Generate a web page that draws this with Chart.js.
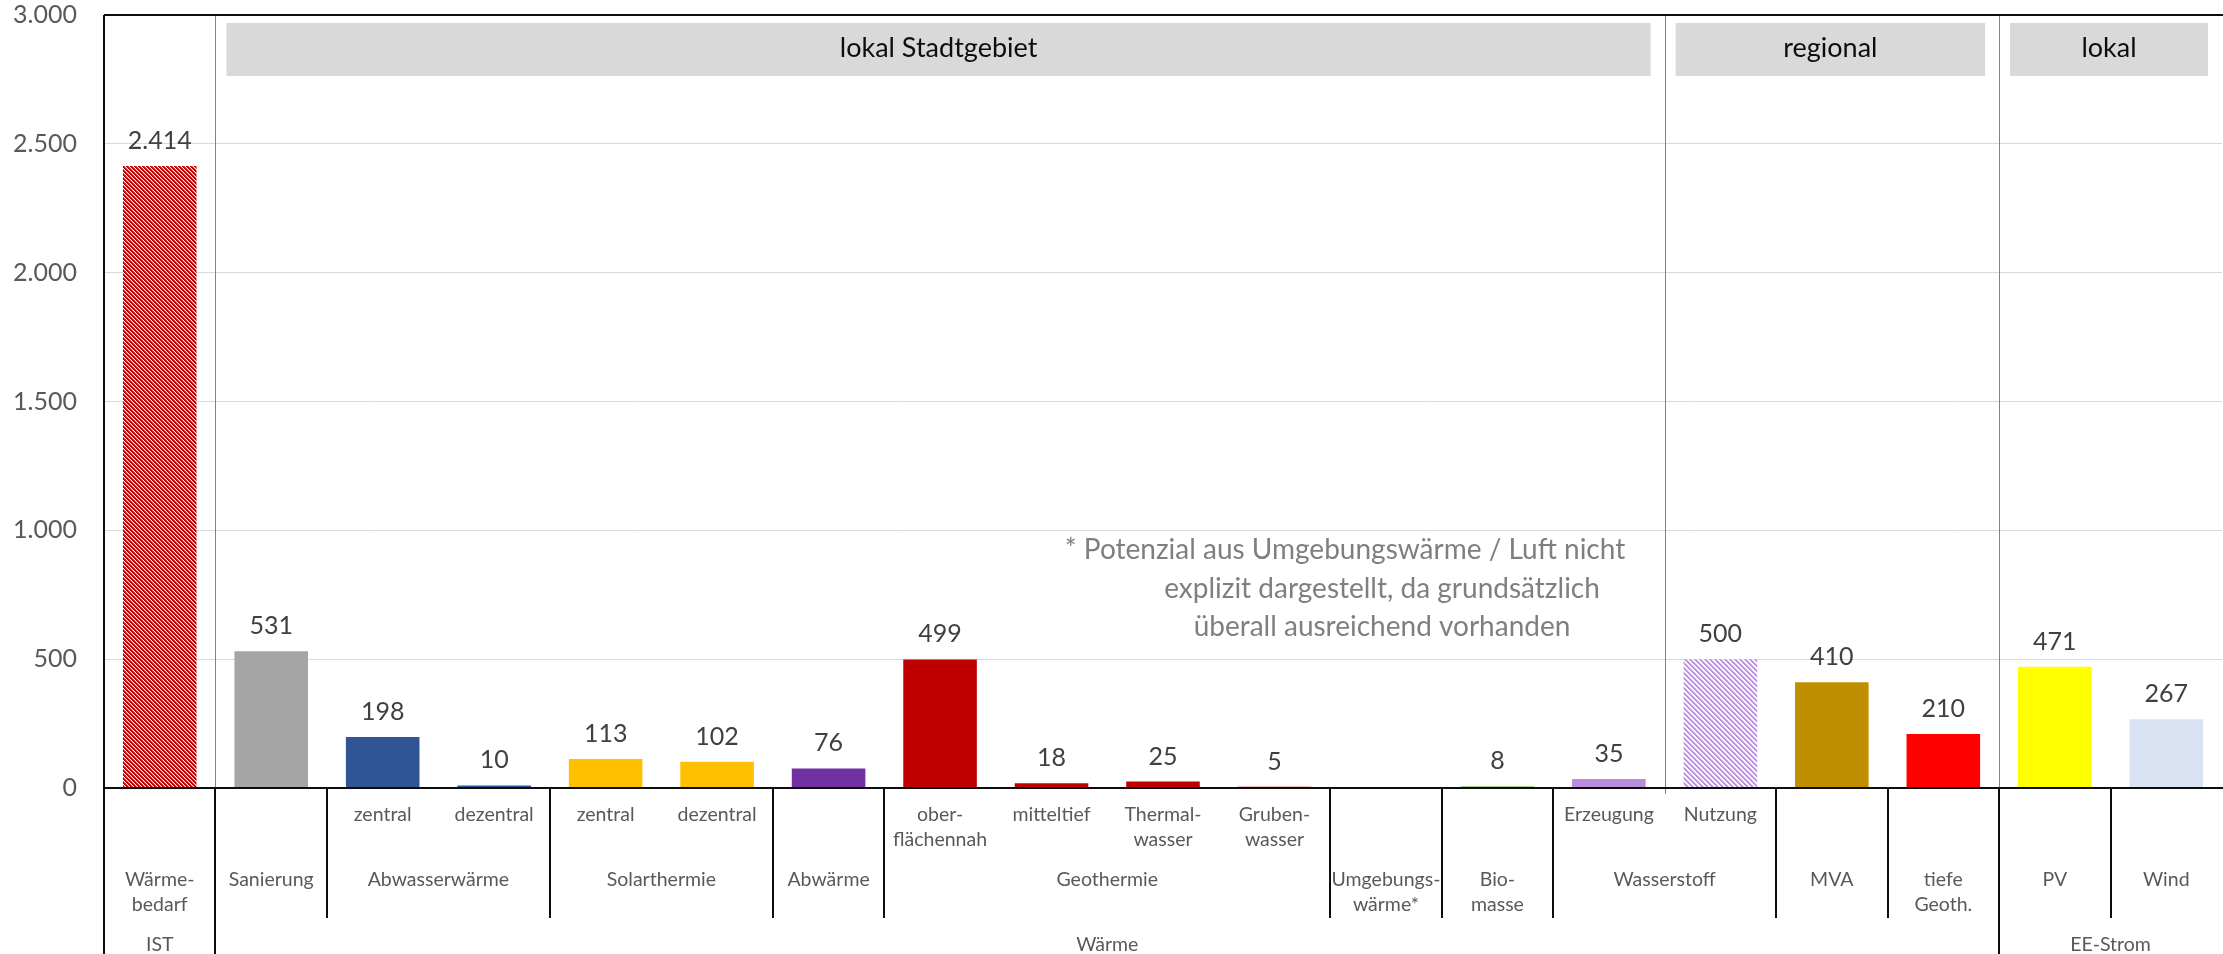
<!DOCTYPE html>
<html lang="de">
<head>
<meta charset="utf-8">
<title>Potenziale Wärme und EE-Strom</title>
<script src="https://cdn.jsdelivr.net/npm/chart.js@4.4.1/dist/chart.umd.min.js"></script>
<style>
  html, body { margin: 0; padding: 0; background: #ffffff; overflow: hidden; }
  canvas { display: block; }
</style>
</head>
<body>
<canvas id="chart" width="2223" height="954"></canvas>
<script>
// ---- data ----------------------------------------------------------------
const categories = [
  'Wärmebedarf', 'Sanierung', 'Abwasserwärme zentral', 'Abwasserwärme dezentral',
  'Solarthermie zentral', 'Solarthermie dezentral', 'Abwärme',
  'Geothermie oberflächennah', 'Geothermie mitteltief', 'Thermalwasser', 'Grubenwasser',
  'Umgebungswärme', 'Biomasse', 'Wasserstoff Erzeugung', 'Wasserstoff Nutzung',
  'MVA', 'tiefe Geothermie', 'PV', 'Wind'
];
const values = [2414, 531, 198, 10, 113, 102, 76, 499, 18, 25, 5, null, 8, 35, 500, 410, 210, 471, 267];

// innermost label row (sub-categories)
const subLabels = ['', '', 'zentral', 'dezentral', 'zentral', 'dezentral', '',
  'ober-\nflächennah', 'mitteltief', 'Thermal-\nwasser', 'Gruben-\nwasser',
  '', '', 'Erzeugung', 'Nutzung', '', '', '', ''];
// middle label row: [text, first index, last index]
const groupLabels = [
  ['Wärme-\nbedarf', 0, 0], ['Sanierung', 1, 1], ['Abwasserwärme', 2, 3],
  ['Solarthermie', 4, 5], ['Abwärme', 6, 6], ['Geothermie', 7, 10],
  ['Umgebungs-\nwärme*', 11, 11], ['Bio-\nmasse', 12, 12], ['Wasserstoff', 13, 14],
  ['MVA', 15, 15], ['tiefe\nGeoth.', 16, 16], ['PV', 17, 17], ['Wind', 18, 18]
];
// outer label row
const topLabels = [['IST', 0, 0], ['Wärme', 1, 16], ['EE-Strom', 17, 18]];
// region headers above the bars
const regionLabels = [['lokal Stadtgebiet', 1, 13], ['regional', 14, 16], ['lokal', 17, 18]];
// value axis
const yMin = 0, yMax = 3000, yStep = 500;
const footnoteLines = [
  '* Potenzial aus Umgebungswärme / Luft nicht',
  'explizit dargestellt, da grundsätzlich',
  'überall ausreichend vorhanden'
];

// ---- styling -------------------------------------------------------------
const FONT = 'Lato, "Noto Sans", sans-serif';
const fmt = v => String(v).replace(/\B(?=(\d{3})+(?!\d))/g, '.');

function hatch(rgb, weights) {
  const p = weights.length;
  const c = document.createElement('canvas');
  c.width = p; c.height = p;
  const g = c.getContext('2d');
  g.fillStyle = '#ffffff';
  g.fillRect(0, 0, p, p);
  for (let y = 0; y < p; y++) {
    for (let x = 0; x < p; x++) {
      const a = weights[((x - y) % p + p) % p];
      if (a > 0) {
        g.fillStyle = `rgba(${rgb},${a})`;
        g.fillRect(x, y, 1, 1);
      }
    }
  }
  return g.createPattern(c, 'repeat');
}

const istHatch = hatch('192,0,0', [1, 1, 0.65, 0.05]);
const h2Hatch = hatch('186,140,222', [1, 0.95, 0.5, 0.08, 0]);

const barColors = [
  istHatch, '#A5A5A5', '#2F5597', '#2F5597', '#FFC000', '#FFC000', '#7030A0',
  '#C00000', '#C00000', '#C00000', '#C00000', '#C00000', '#A9D18E', '#BA8CDC',
  h2Hatch, '#BF8F00', '#FF0000', '#FFFF00', '#DAE3F3'
];

// ---- decorations: headers, dividers, axis label table, value labels -------
const decor = {
  id: 'decor',
  beforeDatasetsDraw(chart) {
    const { ctx, chartArea: a, scales: { x, y } } = chart;
    const zero = y.getPixelForValue(0);
    const edge = i => x.getPixelForValue(i);
    const half = (x.getPixelForValue(1) - x.getPixelForValue(0)) / 2;
    ctx.save();

    // region header boxes
    ctx.font = `27px ${FONT}`;
    ctx.textAlign = 'center';
    ctx.textBaseline = 'middle';
    regionLabels.forEach(([t, s, e]) => {
      const l = edge(s) - half + 11, r = edge(e) + half - 14;
      ctx.fillStyle = '#D9D9D9';
      ctx.fillRect(l, a.top + 8, r - l, 53);
      ctx.fillStyle = '#0D0D0D';
      ctx.fillText(t, (l + r) / 2, a.top + 33);
    });

    // thin blue region dividers
    ctx.strokeStyle = 'rgba(68,114,196,0.85)';
    ctx.lineWidth = 1;
    [0, 13, 16].forEach(i => {
      const px = Math.round(edge(i) + half) + 0.5;
      ctx.beginPath();
      ctx.moveTo(px, a.top + 1);
      ctx.lineTo(px, zero + 6);
      ctx.stroke();
    });

    // footnote
    ctx.font = `28px ${FONT}`;
    ctx.fillStyle = '#7F7F7F';
    const fx = [1345, 1382, 1382];
    const fy = y.getPixelForValue(1000) + 20;
    footnoteLines.forEach((t, i) => ctx.fillText(t, fx[i], fy + i * 38.5));
    ctx.restore();
  },
  afterDatasetsDraw(chart) {
    const { ctx, chartArea: a, scales: { x, y } } = chart;
    const H = chart.height;
    const zero = y.getPixelForValue(0);
    const half = (x.getPixelForValue(1) - x.getPixelForValue(0)) / 2;
    const bound = i => x.getPixelForValue(i) - half;
    ctx.save();

    // value labels
    const meta = chart.getDatasetMeta(0);
    ctx.font = `25px ${FONT}`;
    ctx.fillStyle = '#404040';
    ctx.textAlign = 'center';
    ctx.textBaseline = 'middle';
    meta.data.forEach((bar, i) => {
      if (values[i] == null) return;
      ctx.fillText(fmt(values[i]), bar.x, bar.y - 25);
    });

    // frame and zero line
    ctx.strokeStyle = '#0D0D0D';
    ctx.lineWidth = 2;
    ctx.beginPath();
    ctx.moveTo(a.left, a.top); ctx.lineTo(a.right + 1, a.top);
    ctx.moveTo(a.left, a.top); ctx.lineTo(a.left, H);
    ctx.moveTo(a.left, zero); ctx.lineTo(a.right + 1, zero);
    ctx.stroke();

    // separators of the category table
    const outer = new Set(topLabels.map(([, s]) => s).filter(s => s > 0));
    ctx.beginPath();
    groupLabels.forEach(([, s]) => {
      if (s === 0) return;
      const px = Math.round(bound(s));
      ctx.moveTo(px, zero);
      ctx.lineTo(px, outer.has(s) ? H : zero + 130);
    });
    ctx.stroke();

    // category text rows
    const drawText = (t, cx, cy) => t.split('\n').forEach((ln, k) => ctx.fillText(ln, cx, cy + k * 25));
    ctx.font = `19.5px ${FONT}`;
    ctx.fillStyle = '#595959';
    subLabels.forEach((t, i) => { if (t) drawText(t, x.getPixelForValue(i), zero + 27); });
    groupLabels.forEach(([t, s, e]) => drawText(t, (x.getPixelForValue(s) + x.getPixelForValue(e)) / 2, zero + 92));
    topLabels.forEach(([t, s, e]) => drawText(t, (x.getPixelForValue(s) + x.getPixelForValue(e)) / 2, zero + 157));
    ctx.restore();
  }
};

new Chart(document.getElementById('chart'), {
  type: 'bar',
  data: {
    labels: categories,
    datasets: [{
      data: values,
      backgroundColor: barColors,
      borderWidth: 0,
      categoryPercentage: 1,
      barPercentage: 0.66
    }]
  },
  options: {
    responsive: false,
    animation: false,
    events: [],
    layout: { padding: { top: 15, right: 1, bottom: 166, left: 0 } },
    plugins: { legend: { display: false }, tooltip: { enabled: false }, title: { display: false } },
    scales: {
      x: { display: false },
      y: {
        min: yMin,
        max: yMax,
        afterFit: s => { s.width = 104; s.paddingTop = 12; s.paddingBottom = 12; },
        border: { display: false },
        grid: {
          drawTicks: false,
          lineWidth: 1,
          color: c => (c.tick.value === yMin || c.tick.value === yMax) ? 'rgba(0,0,0,0)' : '#D9D9D9'
        },
        ticks: {
          stepSize: yStep,
          padding: 27,
          color: '#595959',
          font: { family: FONT, size: 25, lineHeight: 1 },
          callback: v => fmt(v)
        }
      }
    }
  },
  plugins: [decor]
});
</script>
</body>
</html>
